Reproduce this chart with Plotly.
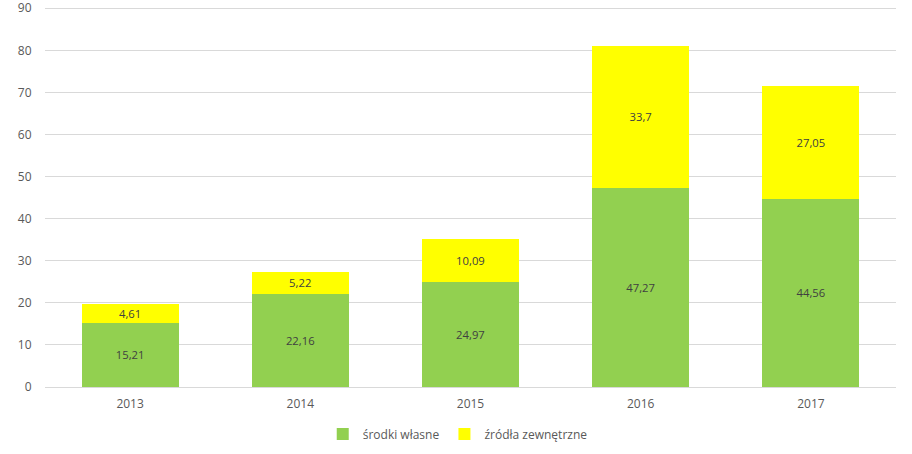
import plotly.graph_objects as go

years = ["2013", "2014", "2015", "2016", "2017"]
srodki_wlasne = [15.21, 22.16, 24.97, 47.27, 44.56]
zrodla_zewnetrzne = [4.61, 5.22, 10.09, 33.7, 27.05]
labels_wlasne = ["15,21", "22,16", "24,97", "47,27", "44,56"]
labels_zewn = ["4,61", "5,22", "10,09", "33,7", "27,05"]
y_ticks = [0, 10, 20, 30, 40, 50, 60, 70, 80, 90]

FONT = "Open Sans"
fig = go.Figure()
fig.add_trace(go.Bar(
    x=years, y=srodki_wlasne, name="środki własne",
    marker=dict(color="#92D050", line=dict(width=0)),
    text=labels_wlasne, textposition="inside", insidetextanchor="middle",
    textfont=dict(family=FONT, size=12, color="#404040"),
    textangle=0,
))
fig.add_trace(go.Bar(
    x=years, y=zrodla_zewnetrzne, name="źródła zewnętrzne",
    marker=dict(color="#FFFF00", line=dict(width=0)),
    text=labels_zewn, textposition="inside", insidetextanchor="middle",
    textfont=dict(family=FONT, size=12, color="#404040"),
    textangle=0,
))
fig.update_layout(
    barmode="stack",
    bargap=0.43,
    width=912, height=454,
    margin=dict(l=45, r=16, t=7, b=67, autoexpand=False),
    paper_bgcolor="white", plot_bgcolor="white",
    font=dict(family=FONT, size=12, color="#595959"),
    uniformtext=dict(minsize=11, mode="show"),
    showlegend=True,
    legend=dict(orientation="h", x=0.485, xanchor="center", y=-0.124, yanchor="middle",
                font=dict(family=FONT, size=12, color="#595959"),
                itemwidth=30, traceorder="normal"),
    xaxis=dict(showgrid=False, showline=True, linecolor="#D9D9D9", linewidth=1,
               automargin=False,
               ticks="outside", ticklen=6, tickcolor="rgba(0,0,0,0)",
               tickfont=dict(family=FONT, size=12, color="#595959")),
    yaxis=dict(range=[0, 90.3], tickvals=y_ticks, showgrid=True, gridcolor="#D9D9D9",
               gridwidth=1, zeroline=False, showline=False, automargin=False,
               ticklabeloverflow="allow",
               ticks="outside", ticklen=10, tickcolor="rgba(0,0,0,0)",
               tickfont=dict(family=FONT, size=12, color="#595959")),
)
fig.write_html("out.html", config={"displayModeBar": False},
               post_script="document.body.style.margin='0';")
